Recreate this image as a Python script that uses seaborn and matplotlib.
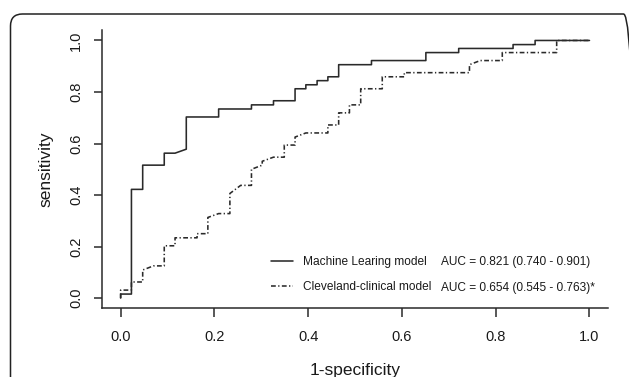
import numpy as np
import pandas as pd
import seaborn as sns
import matplotlib
matplotlib.use("Agg")
import matplotlib.pyplot as plt
from matplotlib.patches import FancyBboxPatch
from matplotlib.transforms import IdentityTransform

# ROC curve points (1-specificity, sensitivity)
ml_fpr = [0.0, 0.0, 0.023, 0.023, 0.047, 0.047, 0.093, 0.093, 0.116, 0.140, 0.140,
          0.209, 0.209, 0.279, 0.279, 0.326, 0.326, 0.372, 0.372, 0.395, 0.395,
          0.419, 0.419, 0.442, 0.442, 0.465, 0.465, 0.535, 0.535, 0.651, 0.651,
          0.721, 0.721, 0.837, 0.837, 0.884, 0.884, 1.0]
ml_tpr = [0.0, 0.0156, 0.0156, 0.422, 0.422, 0.516, 0.516, 0.5625, 0.5625, 0.578, 0.703,
          0.703, 0.734, 0.734, 0.750, 0.750, 0.766, 0.766, 0.8125, 0.8125, 0.828,
          0.828, 0.844, 0.844, 0.859, 0.859, 0.906, 0.906, 0.922, 0.922, 0.953,
          0.953, 0.969, 0.969, 0.984, 0.984, 1.0, 1.0]

cc_fpr = [0.0, 0.0, 0.023, 0.023, 0.047, 0.047, 0.070, 0.093, 0.093, 0.116, 0.116,
          0.163, 0.163, 0.186, 0.186, 0.209, 0.233, 0.233, 0.256, 0.279, 0.279,
          0.302, 0.302, 0.326, 0.349, 0.349, 0.372, 0.372, 0.395, 0.442, 0.442,
          0.465, 0.465, 0.488, 0.488, 0.512, 0.512, 0.558, 0.558, 0.605, 0.605,
          0.744, 0.744, 0.767, 0.814, 0.814, 0.930, 0.930, 1.0]
cc_tpr = [0.0, 0.031, 0.031, 0.0625, 0.0625, 0.109, 0.125, 0.125, 0.203, 0.203, 0.234,
          0.234, 0.250, 0.250, 0.313, 0.328, 0.328, 0.406, 0.4375, 0.4375, 0.500,
          0.516, 0.531, 0.547, 0.547, 0.594, 0.594, 0.625, 0.641, 0.641, 0.672,
          0.672, 0.719, 0.719, 0.750, 0.750, 0.8125, 0.8125, 0.859, 0.859, 0.875,
          0.875, 0.906, 0.922, 0.922, 0.953, 0.953, 1.0, 1.0]

model_names = ["Machine Learing model", "Cleveland-clinical model"]
auc_labels = ["AUC = 0.821 (0.740 - 0.901)", "AUC = 0.654 (0.545 - 0.763)*"]
ticks = [0.0, 0.2, 0.4, 0.6, 0.8, 1.0]
tick_labels = ["0.0", "0.2", "0.4", "0.6", "0.8", "1.0"]

df = pd.concat([
    pd.DataFrame({"fpr": ml_fpr, "tpr": ml_tpr, "model": model_names[0]}),
    pd.DataFrame({"fpr": cc_fpr, "tpr": cc_tpr, "model": model_names[1]}),
], ignore_index=True)

sns.set_theme(style="white")
plt.rcParams["font.family"] = ["Liberation Sans", "DejaVu Sans"]

fig = plt.figure(figsize=(6.29, 3.77), dpi=100)
fig.patch.set_facecolor("white")
ax = fig.add_axes([0.162, 0.182, 0.805, 0.738])

line_col = "#2a2a2a"
for name, ls in zip(model_names, ["-", (0, (3, 1.5, 0.8, 1.5))]):
    sub = df[df["model"] == name]
    sns.lineplot(data=sub, x="fpr", y="tpr", sort=False, estimator=None,
                 color=line_col, linewidth=1.15, linestyle=ls, ax=ax, label=name)

ax.set_xlim(-0.04, 1.04)
ax.set_ylim(-0.04, 1.04)
ax.set_xticks(ticks)
ax.set_xticklabels(tick_labels)
ax.set_yticks(ticks)
ax.set_yticklabels(tick_labels, rotation=90, va="center")
for sp in ["top", "right"]:
    ax.spines[sp].set_visible(False)
for sp in ["left", "bottom"]:
    ax.spines[sp].set_color("#2a2a2a")
    ax.spines[sp].set_linewidth(1.1)
ax.tick_params(axis="x", which="major", direction="out", length=6.5, width=1.1,
               color="#2a2a2a", labelsize=10.5, labelcolor="#1a1a1a", pad=9,
               bottom=True)
ax.tick_params(axis="y", which="major", direction="out", length=6, width=1.1,
               color="#2a2a2a", labelsize=10.5, labelcolor="#1a1a1a", pad=7.5,
               left=True)
ax.set_xlabel("1-specificity", fontsize=12.5, color="#1a1a1a", labelpad=14)
ax.set_ylabel("sensitivity", fontsize=12.5, color="#1a1a1a", labelpad=11)
ax.grid(False)

leg = ax.legend(loc="lower left", bbox_to_anchor=(0.324, 0.038), frameon=False,
                fontsize=8.6, handlelength=1.9, handletextpad=0.8,
                labelspacing=1.1, borderaxespad=0.0)
for t in leg.get_texts():
    t.set_color("#1a1a1a")

for lab, yv in zip(auc_labels, [0.139, 0.040]):
    ax.text(0.683, yv, lab, fontsize=8.6, color="#1a1a1a", va="center", ha="left")

frame = FancyBboxPatch((10.5, -30), 625, 377 - 14 + 30,
                       boxstyle="round,pad=0,rounding_size=12",
                       transform=IdentityTransform(), fill=False,
                       edgecolor="#222222", linewidth=1.1)
fig.patches.append(frame)

fig.savefig("out.png", dpi=100, facecolor="white")
